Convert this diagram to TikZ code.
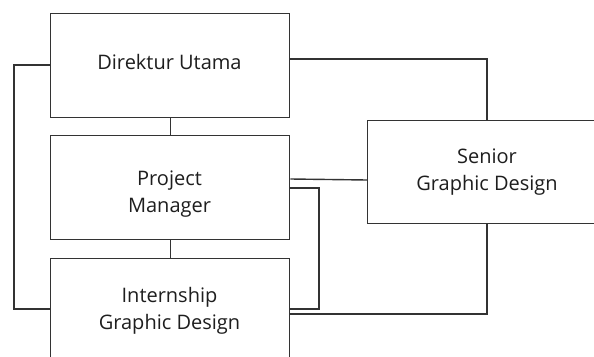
\documentclass[tikz,border=0pt]{standalone}
\usepackage{fontspec}
\setmainfont{Open Sans}
\begin{document}
\begin{tikzpicture}[x=1pt,y=-1pt,
  box/.style={draw=linegray,line width=1.4pt,fill=white,minimum width=239pt,minimum height=104pt,inner sep=0pt,anchor=north west},
  txt/.style={font=\fontsize{20}{27}\selectfont,text=textgray,align=center,inner sep=0pt},
  conn/.style={draw=linegray,line width=1.4pt}]
\definecolor{linegray}{HTML}{333333}
\definecolor{textgray}{HTML}{1E1E1E}
\clip (0,0) rectangle (594,356);
\useasboundingbox (0,0) rectangle (594,356);
\node[box] (dir) at (50,13) {};
\node[box] (pm) at (50,135) {};
\node[box] (int) at (50,258) {};
\node[box,minimum width=240pt,minimum height=103pt] (sen) at (367,120) {};
\node[txt] (tdir) at (169.5,62) {Direktur Utama};
\node[txt] (tpm) at (169.5,194) {Project\\Manager};
\node[txt] (tint) at (169.5,311) {Internship\\Graphic Design};
\node[txt] (tsen) at (487,172) {Senior\\Graphic Design};
\coordinate (l1) at (14,65);
\coordinate (l2) at (14,309);
\coordinate (r1) at (487,59);
\coordinate (p1) at (319,188);
\coordinate (p2) at (319,309);
\coordinate (s1) at (487,314);
\draw[conn] (dir.west |- l1) -- (l1) -- (l2) -- (int.west |- l2);
\draw[conn] (dir.east |- r1) -- (r1) -- (sen.north -| r1);
\draw[conn] (dir.south) -- (pm.north);
\draw[conn] (pm.south) -- (int.north);
\draw[conn] (pm.east |- 0,179) -- (sen.west |- 0,180);
\draw[conn] (pm.east |- p1) -- (p1) -- (p2) -- (int.east |- p2);
\draw[conn] (sen.south -| s1) -- (s1) -- (int.east |- s1);
\end{tikzpicture}
\end{document}
